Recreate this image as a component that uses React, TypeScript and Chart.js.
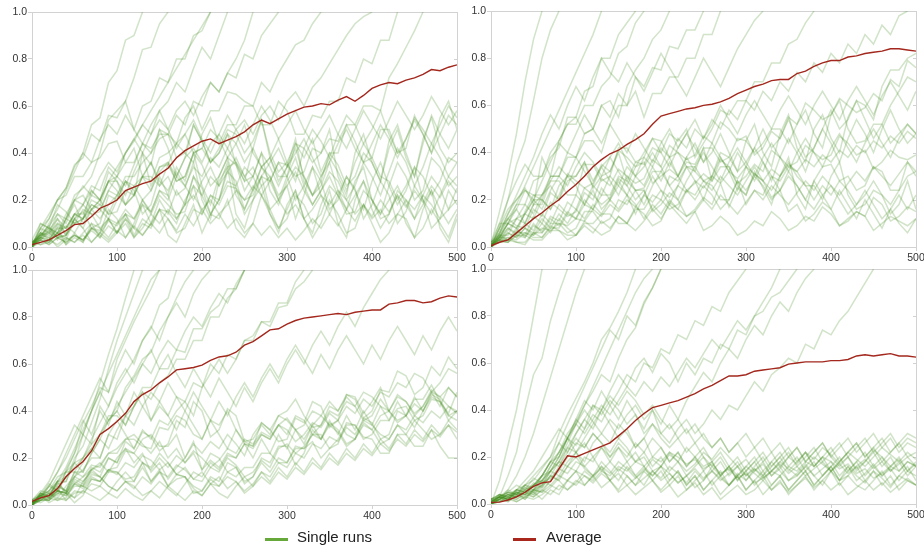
import React, { useEffect, useRef } from "react";
import { Chart, registerables } from "chart.js";
Chart.register(...registerables);

// ---- data ----
const RUN_STEP = 10; // x spacing of single-run samples
const AVG_STEP = 10; // x spacing of average samples
const X_MAX = 500;
const Y_MAX = 1;
const X_STEP_TICK = 100;
const Y_STEP_TICK = 0.2;
const LEGEND_LABELS = ["Single runs", "Average"];

// averages (values 0..1, every 10 steps)
const avgTL = [0.01, 0.02, 0.03, 0.05, 0.07, 0.095, 0.1, 0.13, 0.165, 0.18, 0.2, 0.24, 0.255, 0.27, 0.28, 0.31, 0.335, 0.38, 0.41, 0.43, 0.45, 0.46, 0.44, 0.455, 0.47, 0.49, 0.52, 0.54, 0.525, 0.545, 0.565, 0.58, 0.595, 0.6, 0.61, 0.605, 0.625, 0.64, 0.62, 0.645, 0.675, 0.69, 0.7, 0.695, 0.71, 0.72, 0.735, 0.755, 0.75, 0.765, 0.775];
const avgTR = [0.005, 0.02, 0.03, 0.06, 0.09, 0.12, 0.145, 0.175, 0.2, 0.235, 0.265, 0.3, 0.34, 0.37, 0.395, 0.41, 0.435, 0.455, 0.48, 0.52, 0.555, 0.565, 0.575, 0.585, 0.59, 0.6, 0.605, 0.615, 0.63, 0.65, 0.665, 0.68, 0.69, 0.705, 0.71, 0.71, 0.735, 0.745, 0.765, 0.78, 0.79, 0.79, 0.805, 0.81, 0.82, 0.825, 0.83, 0.84, 0.84, 0.835, 0.83];
const avgBL = [0.015, 0.03, 0.04, 0.07, 0.12, 0.155, 0.185, 0.23, 0.3, 0.325, 0.355, 0.39, 0.44, 0.47, 0.49, 0.52, 0.545, 0.575, 0.58, 0.585, 0.595, 0.615, 0.63, 0.635, 0.65, 0.68, 0.695, 0.72, 0.745, 0.75, 0.77, 0.785, 0.795, 0.8, 0.805, 0.81, 0.815, 0.81, 0.82, 0.825, 0.83, 0.83, 0.855, 0.86, 0.87, 0.87, 0.86, 0.865, 0.88, 0.89, 0.885];
const avgBR = [0.007, 0.008, 0.017, 0.03, 0.05, 0.075, 0.09, 0.095, 0.15, 0.205, 0.2, 0.215, 0.23, 0.245, 0.26, 0.29, 0.32, 0.355, 0.385, 0.41, 0.42, 0.43, 0.44, 0.455, 0.47, 0.49, 0.505, 0.525, 0.545, 0.545, 0.55, 0.565, 0.57, 0.575, 0.58, 0.595, 0.6, 0.605, 0.605, 0.605, 0.61, 0.61, 0.615, 0.63, 0.635, 0.63, 0.635, 0.64, 0.63, 0.63, 0.625];

// single runs (percent, every 10 steps; a run ending at 100 has left the plot)
const runsTL = [
  [1, 5, 6, 3, 12, 22, 25, 30, 40, 54, 58, 62, 72, 84, 85, 95, 100],
  [0, 8, 12, 20, 25, 34, 40, 52, 55, 70, 75, 88, 90, 100],
  [2, 5, 8, 6, 14, 20, 18, 26, 24, 34, 30, 40, 45, 52, 48, 58, 62, 70, 66, 76, 85, 80, 90, 100],
  [1, 3, 7, 4, 5, 12, 18, 14, 15, 24, 30, 26, 35, 44, 40, 50, 48, 56, 52, 62, 60, 70, 66, 74, 72, 82, 80, 90, 95, 100],
  [3, 1, 2, 6, 4, 2, 6, 10, 8, 4, 10, 14, 5, 12, 9, 16, 15, 10, 20, 26, 14, 22, 18, 26, 25, 20, 22, 30, 28, 36, 35, 30, 32, 42, 40, 46, 45, 52, 52, 60, 60, 58, 72, 78, 85, 92, 100],
  [2, 4, 7, 12, 5, 10, 12, 20, 18, 14, 15, 24, 22, 30, 30, 26, 35, 44, 40, 36, 48, 55, 44, 52, 52, 60, 60, 70, 66, 74, 80, 86, 88, 95, 100],
  [0, 6, 12, 20, 25, 35, 38, 48, 45, 56, 55, 62, 50, 60, 62, 72, 70, 80, 80, 90, 92, 100],
  [1, 4, 3, 8, 8, 14, 12, 18, 16, 24, 22, 30, 30, 36, 40, 46, 48, 44, 55, 60, 50, 58, 58, 66, 65, 62, 60, 52, 52, 62, 58, 48, 48, 56, 55, 62, 62, 72, 70, 80, 78, 88, 88, 100],
  [1, 6, 4, 0, 3, 12, 8, 2, 6, 16, 12, 4, 10, 20, 15, 24, 22, 12, 18, 30, 25, 14, 20, 32, 28, 16, 24, 34, 30, 20, 26, 12, 22, 34, 28, 16, 20, 30, 25, 12, 18, 28, 22, 10, 15, 26, 20, 8, 12, 24, 18],
  [0, 10, 8, 18, 15, 10, 12, 24, 20, 32, 28, 18, 22, 40, 35, 50, 42, 30, 38, 52, 45, 36, 40, 48, 35, 28, 42, 54, 38, 30, 30, 44, 38, 46, 32, 40, 40, 52, 45, 36, 38, 50, 50, 40, 42, 56, 48, 40, 55, 62, 50],
  [0, 2, 3, 6, 1, 4, 2, 8, 5, 2, 6, 12, 4, 10, 8, 16, 5, 2, 10, 18, 6, 14, 12, 20, 8, 4, 10, 22, 14, 8, 16, 24, 12, 6, 18, 26, 22, 14, 15, 24, 20, 12, 14, 22, 10, 4, 16, 24, 8, 2, 12],
  [1, 8, 6, 14, 10, 20, 22, 16, 18, 28, 28, 22, 32, 40, 26, 34, 35, 28, 30, 40, 26, 18, 30, 38, 35, 24, 30, 40, 24, 18, 28, 34, 30, 22, 26, 36, 24, 16, 28, 34, 20, 14, 26, 36, 30, 20, 24, 38, 34, 26, 30],
  [2, 5, 9, 4, 12, 18, 10, 16, 20, 28, 30, 36, 36, 44, 42, 48, 48, 38, 40, 52, 45, 36, 42, 50, 48, 40, 45, 54, 40, 32, 36, 44, 42, 36, 40, 50, 30, 22, 40, 48, 36, 28, 42, 50, 38, 30, 46, 55, 42, 36, 40],
  [3, 10, 8, 4, 5, 12, 15, 8, 10, 22, 20, 28, 24, 14, 18, 30, 22, 34, 28, 40, 35, 26, 30, 38, 25, 14, 20, 30, 16, 8, 12, 22, 18, 10, 14, 24, 10, 4, 20, 28, 16, 8, 14, 24, 20, 12, 22, 30, 25, 16, 25],
  [0, 4, 3, 8, 1, 6, 2, 10, 4, 12, 6, 14, 8, 18, 10, 20, 14, 24, 18, 30, 22, 14, 20, 34, 36, 28, 30, 40, 34, 26, 34, 46, 28, 22, 28, 40, 35, 26, 30, 40, 36, 28, 45, 52, 40, 30, 44, 56, 48, 42, 50],
  [0, 8, 14, 20, 22, 30, 30, 36, 38, 44, 45, 36, 42, 30, 36, 26, 30, 22, 25, 36, 20, 12, 28, 34, 14, 8, 20, 26, 14, 6, 18, 24, 12, 4, 10, 20, 14, 6, 8, 18, 10, 2, 6, 14, 12, 4, 8, 16, 10, 4, 14],
  [1, 3, 2, 6, 3, 5, 3, 8, 7, 12, 10, 16, 12, 20, 14, 22, 18, 14, 15, 26, 22, 30, 26, 36, 22, 16, 25, 34, 28, 20, 30, 38, 26, 18, 24, 32, 28, 20, 26, 36, 30, 22, 32, 42, 36, 26, 34, 44, 38, 30, 36],
  [2, 6, 5, 12, 8, 14, 14, 22, 20, 28, 24, 18, 22, 30, 28, 38, 40, 44, 48, 40, 42, 50, 46, 38, 44, 52, 40, 34, 38, 46, 36, 28, 42, 50, 45, 38, 48, 56, 52, 44, 50, 58, 48, 40, 46, 55, 50, 44, 52, 60, 55],
  [0, 3, 1, 4, 2, 5, 3, 7, 4, 9, 6, 12, 8, 5, 10, 16, 12, 6, 8, 16, 14, 22, 20, 28, 26, 34, 30, 22, 28, 36, 30, 20, 26, 34, 22, 14, 22, 30, 24, 16, 28, 36, 26, 18, 24, 34, 30, 22, 28, 38, 36],
  [1, 5, 4, 10, 6, 14, 12, 18, 16, 12, 20, 28, 26, 20, 24, 34, 36, 28, 30, 40, 42, 36, 40, 48, 44, 36, 42, 34, 38, 28, 34, 42, 30, 22, 30, 38, 32, 24, 36, 44, 38, 30, 28, 20, 26, 34, 20, 14, 22, 30, 26],
  [0, 4, 10, 16, 24, 32, 40, 36, 46, 52, 48, 56, 50, 44, 52, 58, 50, 42, 48, 54, 46, 40, 48, 56, 50, 44, 52, 60, 54, 46, 52, 58, 50, 44, 50, 56, 48, 42, 50, 58, 52, 46, 54, 62, 56, 50, 56, 64, 58, 52, 58],
  [1, 3, 1, 4, 2, 5, 3, 8, 6, 11, 9, 14, 12, 18, 15, 24, 20, 30, 26, 34, 30, 38, 34, 42, 36, 30, 34, 26, 30, 22, 26, 32, 24, 18, 24, 30, 22, 16, 22, 28, 20, 14, 20, 26, 18, 12, 18, 24, 16, 10, 16],
  [0, 5, 9, 14, 12, 20, 26, 22, 30, 36, 32, 40, 46, 40, 48, 54, 50, 58, 62, 56, 64, 70, 66, 74, 80, 88, 100],
  [2, 1, 3, 1, 4, 2, 5, 2, 6, 3, 7, 4, 9, 5, 10, 6, 12, 7, 14, 9, 16, 10, 14, 8, 12, 6, 10, 5, 9, 4, 8, 3, 7, 12, 8, 14, 9, 16, 11, 18, 13, 20, 15, 22, 17, 24, 19, 26, 21, 28, 23],
  [1, 4, 2, 6, 9, 6, 12, 16, 12, 18, 22, 18, 26, 30, 24, 32, 36, 30, 38, 42, 36, 44, 48, 42, 50, 54, 48, 56, 60, 54, 62, 66, 60, 68, 72, 78, 84, 90, 95, 98, 100],
  [0, 6, 3, 9, 5, 12, 8, 16, 20, 14, 22, 28, 22, 30, 36, 28, 24, 32, 26, 20, 28, 34, 26, 32, 38, 30, 24, 30, 36, 42, 34, 40, 46, 38, 30, 36, 44, 50, 42, 36, 44, 52, 46, 38, 46, 54, 48, 40, 48, 56, 52],
  [2, 4, 8, 6, 12, 10, 16, 14, 8, 12, 6, 10, 4, 8, 14, 10, 16, 12, 18, 22, 16, 20, 14, 18, 24, 20, 26, 22, 16, 20, 14, 18, 12, 16, 22, 18, 24, 20, 14, 18, 12, 16, 10, 14, 20, 16, 22, 18, 12, 16, 20],
  [0, 3, 6, 10, 8, 14, 18, 24, 20, 28, 34, 40, 46, 52, 58, 64, 70, 76, 82, 88, 94, 100],
];
const runsTR = [
  [0, 10, 20, 35, 45, 62, 80, 92, 100],
  [1, 15, 30, 48, 70, 88, 100],
  [0, 3, 8, 6, 15, 22, 22, 30, 30, 40, 38, 48, 50, 60, 62, 55, 68, 75, 80, 88, 92, 100],
  [0, 8, 20, 28, 35, 30, 30, 40, 45, 52, 52, 60, 60, 68, 72, 82, 85, 95, 100],
  [2, 10, 10, 18, 18, 28, 30, 38, 42, 55, 55, 66, 68, 80, 80, 90, 95, 100],
  [0, 6, 14, 20, 25, 18, 38, 30, 45, 52, 55, 48, 50, 60, 55, 65, 60, 72, 68, 76, 75, 85, 84, 92, 92, 100],
  [1, 8, 16, 20, 24, 22, 20, 30, 30, 38, 38, 45, 45, 40, 52, 60, 60, 66, 55, 65, 65, 72, 72, 80, 80, 90, 90, 100],
  [0, 4, 10, 12, 14, 20, 20, 16, 26, 30, 30, 36, 25, 30, 32, 40, 28, 36, 35, 42, 40, 48, 45, 50, 38, 44, 50, 58, 56, 62, 62, 70, 70, 78, 78, 86, 88, 95, 100],
  [1, 5, 5, 12, 10, 18, 18, 28, 28, 22, 22, 35, 35, 28, 30, 42, 42, 36, 38, 46, 45, 38, 40, 34, 32, 42, 28, 34, 34, 26, 22, 32, 25, 18, 30, 38, 22, 16, 28, 34, 35, 28, 30, 24, 26, 34, 32, 24, 24, 36, 30],
  [2, 4, 4, 2, 2, 6, 6, 10, 10, 6, 8, 15, 15, 10, 12, 20, 18, 24, 24, 16, 20, 30, 28, 34, 34, 28, 30, 40, 38, 32, 45, 52, 40, 34, 48, 56, 42, 36, 50, 56, 46, 40, 55, 62, 60, 54, 68, 75, 75, 80, 82],
  [1, 3, 3, 6, 6, 4, 4, 8, 8, 14, 12, 18, 16, 22, 22, 30, 28, 24, 25, 32, 32, 38, 30, 36, 35, 42, 42, 36, 38, 46, 45, 40, 44, 50, 50, 44, 52, 58, 48, 42, 56, 62, 50, 44, 45, 52, 52, 44, 48, 52, 48],
  [0, 2, 2, 5, 5, 3, 3, 7, 7, 5, 5, 10, 10, 14, 14, 10, 10, 16, 16, 22, 20, 16, 18, 24, 22, 28, 26, 20, 20, 28, 18, 24, 22, 30, 28, 34, 32, 26, 26, 20, 30, 36, 22, 16, 18, 24, 22, 14, 18, 28, 16],
  [1, 3, 2, 5, 4, 9, 7, 13, 11, 19, 16, 25, 22, 18, 21, 29, 26, 20, 24, 15, 18, 23, 20, 13, 16, 21, 18, 27, 17, 25, 22, 31, 28, 21, 24, 15, 18, 11, 14, 19, 16, 9, 12, 15, 13, 7, 10, 13, 11, 9, 12],
  [0, 5, 12, 9, 8, 16, 13, 23, 20, 31, 28, 25, 27, 35, 32, 41, 38, 34, 36, 27, 30, 33, 30, 24, 27, 31, 28, 37, 34, 27, 30, 35, 32, 41, 38, 34, 36, 43, 40, 37, 39, 47, 44, 39, 41, 33, 36, 41, 38, 37, 39],
  [0, 3, 2, 7, 5, 13, 10, 19, 16, 13, 15, 23, 20, 29, 26, 33, 30, 27, 29, 37, 34, 43, 40, 37, 39, 47, 44, 53, 50, 45, 47, 39, 42, 49, 46, 55, 52, 61, 58, 54, 56, 63, 60, 57, 59, 65, 62, 71, 68, 79, 76],
  [1, 4, 3, 2, 1, 6, 4, 9, 7, 3, 5, 11, 8, 5, 7, 13, 10, 17, 14, 9, 11, 19, 16, 13, 15, 7, 9, 13, 10, 5, 7, 11, 9, 15, 12, 7, 9, 13, 11, 17, 14, 9, 11, 15, 13, 21, 18, 11, 13, 17, 15],
  [0, 4, 10, 8, 14, 12, 20, 16, 22, 30, 26, 18, 24, 16, 20, 26, 22, 14, 22, 30, 24, 18, 26, 34, 28, 20, 30, 38, 32, 24, 34, 42, 36, 28, 38, 46, 40, 32, 42, 50, 44, 36, 46, 54, 48, 40, 50, 58, 50, 44, 48],
  [1, 2, 6, 4, 8, 6, 12, 8, 14, 10, 16, 12, 18, 14, 20, 16, 22, 18, 12, 18, 14, 20, 16, 24, 20, 26, 22, 16, 20, 28, 24, 30, 26, 20, 24, 30, 26, 20, 16, 22, 26, 20, 14, 18, 24, 18, 12, 16, 22, 16, 22],
  [0, 8, 12, 16, 10, 18, 22, 26, 20, 28, 30, 36, 28, 34, 38, 44, 36, 30, 34, 40, 34, 26, 30, 38, 44, 36, 40, 48, 40, 32, 36, 42, 50, 42, 46, 54, 46, 38, 42, 50, 58, 50, 54, 62, 54, 46, 52, 60, 66, 72, 70],
  [2, 5, 3, 8, 4, 10, 6, 12, 9, 15, 12, 20, 16, 25, 20, 28, 22, 30, 26, 34, 28, 36, 30, 38, 32, 28, 24, 30, 26, 22, 28, 34, 28, 24, 30, 36, 30, 26, 20, 26, 22, 28, 24, 18, 22, 28, 22, 18, 24, 30, 32],
  [0, 6, 14, 22, 30, 38, 48, 56, 50, 60, 68, 62, 72, 80, 74, 70, 78, 72, 66, 74, 82, 76, 70, 64, 72, 80, 74, 68, 76, 84, 90, 96, 100],
  [1, 4, 10, 16, 24, 20, 28, 36, 44, 40, 48, 56, 50, 44, 52, 46, 40, 48, 42, 36, 44, 50, 42, 48, 54, 46, 52, 60, 54, 48, 56, 62, 56, 50, 58, 64, 58, 52, 60, 66, 60, 54, 62, 68, 62, 56, 64, 70, 64, 58, 66],
  [0, 3, 7, 12, 18, 14, 22, 28, 34, 30, 38, 32, 26, 34, 28, 22, 30, 24, 18, 26, 32, 26, 20, 28, 34, 40, 34, 28, 36, 42, 36, 30, 38, 44, 38, 32, 40, 46, 40, 34, 42, 48, 42, 36, 44, 50, 44, 38, 46, 52, 48],
  [2, 6, 12, 18, 26, 34, 42, 50, 58, 66, 74, 82, 90, 100],
  [1, 2, 4, 3, 6, 5, 8, 7, 10, 9, 12, 11, 16, 13, 18, 15, 20, 17, 22, 19, 24, 21, 26, 23, 28, 25, 30, 27, 32, 29, 34, 31, 28, 33, 30, 35, 32, 37, 34, 39, 36, 41, 38, 43, 40, 45, 42, 47, 44, 49, 46],
  [0, 4, 8, 5, 10, 7, 14, 10, 18, 14, 22, 18, 26, 22, 30, 26, 34, 30, 38, 34, 42, 38, 46, 42, 50, 46, 54, 50, 58, 54, 62, 58, 66, 62, 70, 66, 74, 70, 78, 74, 82, 78, 86, 82, 90, 86, 94, 90, 98, 100],
  [1, 3, 6, 4, 8, 5, 10, 6, 12, 8, 5, 9, 6, 11, 8, 13, 10, 7, 11, 16, 12, 18, 14, 10, 15, 20, 16, 22, 18, 14, 19, 24, 20, 26, 22, 18, 23, 28, 24, 30, 26, 22, 27, 32, 28, 34, 30, 26, 31, 36, 32],
  [0, 5, 10, 8, 14, 20, 16, 24, 30, 26, 34, 40, 36, 30, 38, 32, 26, 34, 40, 46, 40, 34, 42, 48, 42, 36, 44, 38, 32, 40, 34, 28, 36, 30, 24, 32, 26, 20, 28, 22, 16, 24, 18, 12, 20, 14, 8, 16, 10, 6, 12],
];
const runsBL = [
  [1, 3, 4, 10, 10, 20, 25, 35, 45, 58, 70, 80, 90, 100],
  [0, 2, 2, 8, 6, 14, 14, 22, 28, 36, 40, 50, 55, 62, 65, 74, 80, 88, 95, 100],
  [1, 4, 6, 12, 14, 22, 30, 40, 52, 64, 75, 88, 100],
  [0, 5, 3, 10, 5, 12, 15, 20, 20, 30, 28, 38, 42, 50, 50, 58, 58, 66, 65, 75, 75, 82, 85, 92, 92, 100],
  [2, 4, 6, 10, 12, 16, 20, 26, 30, 38, 38, 34, 42, 48, 45, 52, 55, 62, 62, 70, 70, 80, 80, 88, 92, 100],
  [0, 3, 5, 9, 10, 18, 20, 28, 35, 42, 50, 56, 62, 70, 75, 85, 88, 100],
  [1, 2, 5, 4, 15, 22, 35, 42, 50, 48, 62, 70, 78, 85, 92, 100],
  [0, 4, 4, 10, 14, 18, 30, 26, 42, 36, 40, 34, 42, 48, 36, 42, 38, 46, 44, 52, 50, 60, 56, 64, 62, 70, 70, 78, 78, 86, 86, 95, 100],
  [1, 3, 8, 6, 14, 14, 20, 24, 20, 30, 36, 30, 24, 32, 28, 36, 34, 40, 44, 38, 50, 56, 62, 56, 62, 70, 72, 78, 76, 84, 85, 92, 95, 100],
  [2, 6, 5, 2, 3, 9, 8, 15, 12, 20, 18, 27, 24, 31, 29, 23, 26, 36, 33, 44, 40, 29, 32, 41, 38, 27, 25, 35, 32, 27, 28, 37, 35, 44, 42, 33, 36, 47, 45, 37, 40, 49, 48, 57, 55, 47, 50, 59, 55, 63, 58],
  [1, 3, 2, 6, 5, 1, 4, 11, 10, 15, 14, 11, 12, 18, 10, 15, 8, 13, 12, 5, 6, 12, 10, 18, 16, 10, 12, 20, 18, 25, 25, 17, 22, 32, 28, 35, 32, 26, 28, 37, 35, 28, 30, 40, 38, 33, 40, 47, 45, 38, 36],
  [0, 5, 4, 7, 2, 5, 6, 11, 10, 15, 16, 23, 22, 28, 30, 25, 25, 30, 20, 27, 15, 22, 20, 14, 16, 9, 12, 18, 14, 20, 18, 25, 24, 30, 30, 24, 26, 35, 34, 29, 28, 22, 22, 30, 30, 25, 25, 32, 25, 20, 20],
  [0, 3, 4, 9, 6, 14, 12, 17, 16, 22, 22, 28, 28, 25, 24, 33, 32, 38, 36, 30, 28, 36, 34, 40, 32, 27, 28, 34, 30, 38, 40, 45, 38, 33, 34, 42, 40, 47, 46, 39, 44, 50, 40, 36, 38, 45, 45, 51, 44, 39, 48],
  [1, 2, 2, 5, 4, 8, 8, 6, 8, 14, 14, 10, 10, 16, 10, 14, 8, 11, 12, 7, 4, 9, 8, 14, 12, 16, 16, 22, 22, 18, 18, 24, 24, 27, 20, 24, 28, 34, 34, 28, 30, 36, 36, 41, 42, 36, 38, 45, 44, 38, 40],
  [2, 5, 3, 6, 4, 9, 12, 15, 17, 22, 24, 28, 30, 26, 22, 27, 20, 24, 18, 22, 15, 19, 16, 22, 20, 26, 24, 30, 28, 34, 37, 32, 28, 34, 38, 44, 40, 46, 42, 36, 38, 45, 40, 47, 44, 38, 42, 49, 46, 50, 46],
  [1, 4, 2, 5, 6, 3, 10, 14, 12, 8, 6, 10, 8, 4, 6, 10, 7, 4, 9, 14, 12, 18, 15, 21, 20, 26, 25, 30, 28, 34, 30, 38, 36, 30, 34, 40, 38, 44, 42, 48, 46, 42, 40, 46, 44, 39, 42, 48, 46, 42, 40],
  [0, 5, 4, 8, 6, 12, 10, 15, 18, 14, 20, 24, 18, 22, 14, 18, 11, 16, 20, 26, 22, 27, 24, 30, 26, 21, 30, 35, 32, 38, 36, 32, 34, 40, 38, 34, 36, 30, 28, 35, 32, 26, 28, 34, 30, 36, 32, 28, 30, 34, 28],
  [1, 4, 3, 6, 5, 10, 8, 13, 12, 8, 6, 10, 7, 12, 9, 14, 12, 17, 15, 11, 10, 16, 14, 20, 17, 12, 14, 19, 16, 24, 26, 22, 25, 30, 28, 34, 31, 25, 28, 34, 32, 38, 40, 35, 38, 43, 40, 46, 44, 36, 40],
  [2, 4, 1, 3, 2, 6, 5, 9, 8, 5, 10, 14, 10, 18, 16, 22, 18, 13, 12, 8, 6, 11, 8, 12, 10, 6, 9, 14, 12, 18, 16, 22, 20, 26, 24, 29, 27, 33, 30, 36, 34, 30, 28, 34, 32, 38, 35, 40, 37, 42, 39],
  [0, 2, 3, 6, 5, 11, 9, 16, 14, 20, 18, 24, 22, 18, 15, 20, 16, 21, 18, 23, 20, 16, 19, 24, 22, 28, 26, 31, 29, 34, 32, 27, 30, 35, 33, 39, 36, 42, 39, 45, 42, 48, 46, 52, 50, 56, 54, 48, 52, 58, 56],
  [0, 3, 8, 14, 22, 30, 38, 46, 54, 48, 58, 66, 60, 70, 76, 70, 80, 86, 80, 90, 96, 100],
  [1, 5, 10, 18, 26, 34, 30, 40, 48, 42, 52, 58, 52, 60, 66, 58, 64, 56, 50, 58, 52, 46, 54, 48, 42, 50, 44, 52, 58, 52, 60, 66, 60, 68, 74, 68, 76, 82, 76, 84, 90, 96, 100],
  [0, 2, 5, 3, 8, 12, 18, 24, 30, 36, 42, 48, 54, 60, 56, 64, 70, 66, 74, 80, 76, 84, 90, 86, 94, 100],
  [2, 1, 3, 2, 5, 3, 6, 4, 2, 5, 3, 7, 4, 2, 6, 3, 8, 5, 2, 6, 4, 9, 5, 3, 8, 12, 8, 14, 10, 16, 12, 18, 14, 20, 16, 22, 18, 24, 20, 26, 22, 28, 24, 30, 26, 32, 28, 34, 30, 36, 32],
  [1, 4, 8, 14, 20, 28, 36, 30, 40, 34, 44, 38, 48, 42, 36, 44, 38, 32, 40, 34, 28, 36, 30, 24, 32, 26, 20, 28, 22, 30, 24, 32, 26, 34, 28, 36, 30, 38, 32, 40, 34, 42, 36, 44, 38, 46, 40, 48, 42, 50, 46],
  [0, 3, 6, 10, 16, 24, 32, 40, 48, 56, 64, 72, 80, 88, 96, 100],
  [1, 2, 4, 6, 5, 9, 7, 12, 10, 15, 13, 18, 16, 21, 19, 15, 18, 13, 16, 11, 14, 9, 12, 7, 10, 5, 8, 12, 9, 14, 11, 16, 13, 18, 15, 20, 17, 22, 19, 24, 21, 26, 23, 28, 25, 30, 27, 32, 29, 34, 31],
  [0, 4, 9, 6, 12, 18, 14, 22, 28, 24, 32, 38, 34, 42, 48, 44, 52, 46, 40, 48, 42, 36, 44, 38, 46, 52, 46, 54, 60, 54, 62, 68, 62, 56, 64, 58, 66, 72, 66, 60, 68, 62, 70, 76, 70, 64, 72, 66, 74, 80, 74],
];
const runsBR = [
  [0, 10, 25, 40, 60, 80, 100],
  [1, 3, 12, 22, 40, 55, 62, 78, 90, 100],
  [0, 2, 5, 4, 8, 10, 15, 20, 30, 38, 45, 52, 60, 70, 75, 82, 90, 100],
  [1, 3, 2, 6, 5, 8, 12, 18, 22, 30, 35, 42, 48, 55, 52, 62, 70, 75, 85, 92, 100],
  [0, 4, 2, 5, 8, 6, 12, 18, 20, 28, 25, 32, 38, 35, 42, 48, 55, 52, 60, 58, 66, 64, 72, 70, 78, 76, 84, 82, 90, 95, 100],
  [2, 1, 3, 5, 2, 6, 10, 14, 20, 28, 36, 32, 42, 40, 48, 55, 50, 58, 62, 56, 64, 60, 52, 60, 55, 62, 60, 68, 66, 74, 72, 80, 82, 88, 90, 95, 100],
  [0, 2, 4, 3, 6, 8, 12, 18, 16, 24, 22, 18, 26, 30, 26, 34, 30, 24, 28, 34, 30, 26, 32, 36, 30, 34, 40, 36, 42, 40, 46, 52, 48, 55, 58, 62, 60, 68, 66, 74, 72, 78, 82, 88, 94, 100],
  [1, 3, 6, 4, 8, 7, 12, 14, 18, 16, 20, 15, 12, 18, 14, 10, 16, 12, 8, 14, 11, 16, 13, 9, 14, 10, 16, 12, 8, 13, 10, 15, 12, 18, 14, 10, 12, 16, 12, 8, 14, 10, 16, 12, 9, 14, 11, 7, 12, 10, 8],
  [0, 2, 1, 4, 3, 6, 5, 10, 14, 20, 26, 24, 30, 26, 22, 28, 24, 18, 22, 16, 20, 14, 18, 12, 16, 20, 14, 18, 12, 16, 10, 14, 18, 12, 16, 10, 13, 17, 12, 15, 18, 12, 16, 10, 13, 17, 12, 15, 10, 14, 12],
  [2, 4, 3, 1, 3, 5, 2, 6, 4, 10, 14, 8, 12, 16, 10, 6, 12, 8, 14, 10, 6, 10, 14, 8, 12, 6, 10, 4, 8, 12, 6, 10, 14, 8, 12, 6, 10, 14, 8, 12, 16, 10, 12, 8, 6, 10, 14, 8, 12, 16, 10],
  [0, 3, 5, 8, 6, 11, 9, 16, 22, 28, 34, 40, 35, 30, 36, 32, 38, 42, 36, 40, 30, 34, 28, 32, 26, 30, 24, 28, 22, 26, 30, 24, 28, 22, 26, 20, 24, 18, 22, 26, 20, 24, 28, 22, 26, 30, 24, 28, 22, 26, 24],
  [1, 2, 4, 3, 6, 4, 8, 12, 10, 16, 14, 20, 18, 24, 20, 26, 22, 18, 20, 14, 16, 22, 18, 24, 20, 16, 18, 12, 16, 20, 14, 18, 22, 16, 20, 14, 18, 22, 16, 20, 24, 18, 22, 26, 20, 24, 18, 22, 26, 20, 22],
  [0, 1, 3, 2, 5, 3, 6, 4, 8, 6, 10, 8, 12, 7, 10, 5, 8, 4, 7, 10, 5, 8, 3, 6, 9, 4, 7, 2, 5, 8, 4, 6, 10, 6, 9, 5, 8, 11, 7, 10, 6, 9, 4, 7, 10, 6, 9, 5, 8, 11, 8],
  [2, 4, 3, 6, 8, 12, 16, 20, 26, 22, 30, 36, 32, 40, 34, 28, 32, 24, 28, 20, 24, 18, 22, 16, 20, 24, 18, 22, 16, 12, 16, 20, 14, 18, 22, 16, 20, 14, 18, 12, 16, 20, 14, 18, 22, 16, 12, 16, 20, 14, 18],
  [1, 3, 2, 5, 4, 8, 10, 14, 12, 18, 22, 16, 20, 14, 18, 24, 20, 26, 22, 28, 24, 18, 22, 16, 20, 14, 18, 12, 16, 10, 14, 18, 12, 16, 20, 24, 18, 22, 16, 20, 14, 18, 22, 26, 20, 24, 28, 22, 26, 30, 28],
  [0, 2, 4, 6, 10, 14, 20, 26, 32, 28, 22, 26, 20, 24, 18, 14, 18, 12, 16, 10, 14, 8, 12, 6, 10, 14, 8, 12, 16, 10, 14, 8, 12, 6, 10, 4, 8, 12, 6, 10, 14, 8, 12, 16, 10, 14, 8, 12, 6, 10, 8],
  [1, 4, 2, 6, 5, 9, 7, 12, 10, 6, 9, 14, 11, 16, 13, 18, 15, 11, 14, 19, 16, 21, 18, 14, 17, 22, 19, 24, 20, 16, 19, 14, 17, 12, 15, 20, 17, 22, 19, 24, 21, 17, 20, 15, 18, 23, 20, 16, 19, 14, 17],
  [0, 3, 1, 4, 2, 6, 8, 14, 18, 24, 30, 36, 42, 38, 44, 40, 34, 38, 30, 34, 28, 24, 28, 22, 26, 20, 16, 20, 14, 18, 12, 16, 20, 14, 18, 22, 16, 20, 24, 18, 22, 26, 20, 24, 28, 22, 26, 30, 24, 28, 26],
  [2, 3, 5, 4, 7, 5, 9, 11, 15, 13, 18, 16, 12, 15, 10, 13, 8, 11, 15, 12, 16, 13, 9, 12, 7, 10, 14, 11, 8, 12, 16, 13, 10, 14, 18, 15, 12, 16, 20, 17, 14, 18, 22, 19, 16, 20, 24, 21, 18, 22, 19],
  [0, 1, 2, 1, 3, 2, 4, 7, 11, 16, 22, 28, 34, 40, 46, 42, 48, 44, 38, 42, 36, 32, 36, 30, 34, 28, 24, 28, 22, 26, 20, 24, 18, 22, 16, 20, 24, 18, 22, 26, 20, 16, 20, 14, 18, 22, 16, 20, 14, 18, 16],
  [0, 2, 6, 12, 20, 30, 42, 54, 66, 78, 90, 100],
  [1, 3, 2, 5, 4, 8, 12, 18, 26, 34, 42, 50, 58, 66, 74, 70, 80, 76, 86, 92, 100],
  [0, 2, 4, 3, 6, 5, 8, 14, 20, 28, 36, 44, 40, 48, 42, 36, 44, 38, 32, 40, 34, 42, 36, 44, 50, 56, 52, 60, 66, 62, 70, 76, 72, 80, 86, 82, 90, 96, 100],
  [2, 3, 5, 4, 7, 6, 10, 8, 12, 10, 14, 12, 9, 13, 10, 15, 12, 8, 11, 14, 10, 13, 9, 12, 15, 11, 14, 10, 13, 16, 12, 15, 11, 14, 17, 13, 16, 12, 15, 18, 14, 17, 13, 16, 19, 15, 18, 14, 17, 20, 16],
  [0, 1, 3, 2, 4, 3, 6, 10, 16, 22, 28, 24, 30, 26, 20, 24, 18, 22, 16, 12, 16, 10, 14, 8, 12, 6, 10, 14, 8, 12, 6, 10, 4, 8, 12, 6, 10, 14, 8, 12, 16, 10, 14, 18, 12, 16, 20, 14, 18, 12, 16],
  [1, 2, 4, 3, 5, 4, 7, 12, 18, 26, 34, 42, 50, 58, 66, 74, 82, 90, 96, 100],
  [0, 3, 2, 5, 4, 6, 5, 8, 6, 10, 8, 12, 10, 14, 12, 16, 14, 18, 16, 20, 18, 22, 20, 17, 19, 15, 17, 13, 15, 11, 13, 9, 11, 14, 12, 16, 14, 18, 16, 20, 18, 15, 17, 13, 15, 11, 13, 16, 14, 18, 16],
  [2, 4, 3, 6, 5, 8, 10, 16, 22, 28, 34, 30, 36, 42, 38, 44, 50, 46, 52, 48, 54, 50, 56, 62, 58, 64, 70, 66, 72, 78, 74, 80, 86, 92, 100],
];

// ---- styles ----
const RUN_COLOR = "rgba(62,140,24,0.24)";
const AVG_COLOR = "#a3271c";
const LEG_GREEN = "#66a83a";
const LEG_RED = "#a8261c";
const FRAME = "#d2d2d2";
const FONT = '"Liberation Sans", Arial, sans-serif';

type Box = { l: number; t: number; w: number; h: number; pt: number; pr: number };

const framePlugin = {
  id: "frame",
  beforeDatasetsDraw(chart: any) {
    const { ctx, chartArea: a, scales } = chart;
    ctx.save();
    ctx.strokeStyle = FRAME;
    ctx.lineWidth = 1;
    ctx.strokeRect(Math.round(a.left) + 0.5, Math.round(a.top) + 0.5, Math.round(a.right - a.left), Math.round(a.bottom - a.top));
    const y = scales.y;
    for (const tk of y.ticks) {
      const py = Math.round(y.getPixelForValue(tk.value)) + 0.5;
      ctx.beginPath();
      ctx.moveTo(a.right - 3, py);
      ctx.lineTo(a.right, py);
      ctx.stroke();
    }
    ctx.restore();
  },
};

function pts(arr: number[], step: number, scale: number) {
  return arr.map((v, i) => ({ x: i * step, y: v * scale }));
}

function Panel({ avg, runs, box }: { avg: number[]; runs: number[][]; box: Box }) {
  const ref = useRef<HTMLCanvasElement>(null);
  useEffect(() => {
    const datasets: any[] = [
      {
        label: LEGEND_LABELS[1],
        data: pts(avg, AVG_STEP, 1),
        borderColor: AVG_COLOR,
        borderWidth: 1.4,
        pointRadius: 0,
        tension: 0,
      },
      ...runs.map((r) => ({
        label: LEGEND_LABELS[0],
        data: pts(r, RUN_STEP, 0.01),
        borderColor: RUN_COLOR,
        borderWidth: 1.5,
        pointRadius: 0,
        tension: 0,
      })),
    ];
    const tickFont = { family: FONT, size: 10.5 };
    const chart = new Chart(ref.current as HTMLCanvasElement, {
      type: "line",
      data: { datasets },
      options: {
        animation: false,
        responsive: false,
        maintainAspectRatio: false,
        layout: { padding: { left: 0, top: box.pt, right: box.pr, bottom: 0 } },
        plugins: { legend: { display: false }, tooltip: { enabled: false } },
        scales: {
          x: {
            type: "linear",
            min: 0,
            max: X_MAX,
            ticks: { stepSize: X_STEP_TICK, color: "#333", font: tickFont, padding: 1, maxRotation: 0 },
            grid: { drawOnChartArea: false, drawTicks: true, tickLength: 4, color: FRAME },
            border: { display: true, color: FRAME },
            afterFit: (s: any) => {
              s.height = 15;
            },
          },
          y: {
            type: "linear",
            min: 0,
            max: Y_MAX,
            ticks: {
              stepSize: Y_STEP_TICK,
              color: "#333",
              font: tickFont,
              padding: 1,
              callback: (v: any) => Number(v).toFixed(1),
            },
            grid: { drawOnChartArea: false, drawTicks: true, tickLength: 4, color: FRAME },
            border: { display: true, color: FRAME },
            afterFit: (s: any) => {
              s.width = 32;
            },
          },
        },
      } as any,
      plugins: [framePlugin],
    });
    return () => chart.destroy();
  }, []);
  return (
    <canvas
      ref={ref}
      width={box.w}
      height={box.h}
      style={{ position: "absolute", left: box.l, top: box.t, width: box.w, height: box.h }}
    />
  );
}

const BOX_TL: Box = { l: 0, t: 0, w: 470, h: 262, pt: 12, pr: 13 };
const BOX_TR: Box = { l: 459, t: 0, w: 470, h: 262, pt: 11, pr: 13 };
const BOX_BL: Box = { l: 0, t: 258, w: 470, h: 262, pt: 12, pr: 13 };
const BOX_BR: Box = { l: 459, t: 258, w: 470, h: 261, pt: 11, pr: 13 };

export default function App() {
  const legendText: React.CSSProperties = {
    position: "absolute",
    top: 528,
    fontFamily: FONT,
    fontSize: 15,
    lineHeight: "17px",
    color: "#222",
    whiteSpace: "nowrap",
  };
  return (
    <div style={{ position: "absolute", left: 0, top: 0, width: 924, height: 551, overflow: "hidden", background: "#fff" }}>
      <Panel avg={avgTL} runs={runsTL} box={BOX_TL} />
      <Panel avg={avgTR} runs={runsTR} box={BOX_TR} />
      <Panel avg={avgBL} runs={runsBL} box={BOX_BL} />
      <Panel avg={avgBR} runs={runsBR} box={BOX_BR} />
      <div style={{ position: "absolute", left: 265, top: 537.5, width: 23, height: 3, background: LEG_GREEN }} />
      <span style={{ ...legendText, left: 297 }}>{LEGEND_LABELS[0]}</span>
      <div style={{ position: "absolute", left: 513, top: 537.5, width: 23, height: 3, background: LEG_RED }} />
      <span style={{ ...legendText, left: 546 }}>{LEGEND_LABELS[1]}</span>
    </div>
  );
}
